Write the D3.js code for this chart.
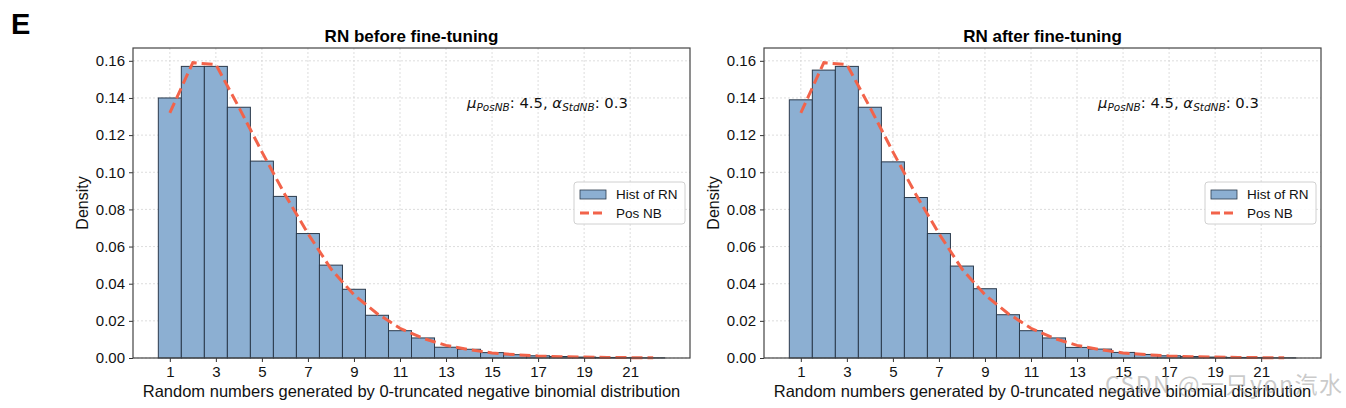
<!DOCTYPE html>
<html>
<head>
<meta charset="utf-8">
<script src="https://cdn.jsdelivr.net/npm/d3@7"></script>
<style>
  body { margin: 0; background: #fff; }
  svg { display: block; font-family: "Liberation Sans", Arial, sans-serif; }
</style>
</head>
<body>
<div id="chart"></div>
<script>
/* Data */
const bins = d3.range(1, 23);
const beforeDensity = [0.140, 0.157, 0.157, 0.135, 0.106, 0.087, 0.067, 0.050, 0.037, 0.023, 0.0147,
  0.0108, 0.0058, 0.0047, 0.0029, 0.0018, 0.0012, 0.0008, 0.0005, 0.0003, 0.0002, 0.0001];
const afterDensity = [0.139, 0.155, 0.157, 0.135, 0.1056, 0.0864, 0.067, 0.0495, 0.0373, 0.0233, 0.0147,
  0.0108, 0.0057, 0.0048, 0.0030, 0.0019, 0.0012, 0.0008, 0.0005, 0.0003, 0.0002, 0.0001];
const posNB = [0.132, 0.159, 0.158, 0.135, 0.111, 0.088, 0.067, 0.048, 0.034, 0.024, 0.016,
  0.0106, 0.0068, 0.0045, 0.0027, 0.0018, 0.0011, 0.0007, 0.0005, 0.0003, 0.0002, 0.0001];
const xTicks = [1, 3, 5, 7, 9, 11, 13, 15, 17, 19, 21];
const yTicks = [0, 0.02, 0.04, 0.06, 0.08, 0.10, 0.12, 0.14, 0.16];
const titles = ["RN before fine-tuning", "RN after fine-tuning"];
const legendLabels = ["Hist of RN", "Pos NB"];

const width = 1346, height = 408;
const barColor = "#8cafd2", edgeColor = "#2b3a4c", lineColor = "#f2634a";

const svg = d3.select("#chart")
  .append("svg")
    .attr("width", width)
    .attr("height", height)
    .attr("viewBox", [0, 0, width, height]);

// panel letter
svg.append("text")
  .attr("x", 11).attr("y", 34)
  .style("font-size", "29px").style("font-weight", "bold")
  .text("E");

const drawPanel = (left, right, title, density) => {
  const top = 48, bottom = 358;

  const xScale = d3.scaleLinear().domain([-0.6, 23.6]).range([left, right]);
  const yScale = d3.scaleLinear().domain([0, 0.1669]).range([bottom, top]);

  const g = svg.append("g");

  // grid
  g.append("g").selectAll("line")
    .data(xTicks)
    .join("line")
      .attr("x1", d => xScale(d)).attr("x2", d => xScale(d))
      .attr("y1", top).attr("y2", bottom)
      .attr("stroke", "#d4d4d4").attr("stroke-width", 0.8)
      .attr("stroke-dasharray", "2,2");
  g.append("g").selectAll("line")
    .data(yTicks)
    .join("line")
      .attr("x1", left).attr("x2", right)
      .attr("y1", d => yScale(d)).attr("y2", d => yScale(d))
      .attr("stroke", "#d4d4d4").attr("stroke-width", 0.8)
      .attr("stroke-dasharray", "2,2");

  // histogram bars
  g.append("g").selectAll("rect")
    .data(bins.map((b, i) => ({bin: b, value: density[i]})))
    .join("rect")
      .attr("x", d => xScale(d.bin - 0.5))
      .attr("y", d => yScale(d.value))
      .attr("width", d => xScale(d.bin + 0.5) - xScale(d.bin - 0.5))
      .attr("height", d => yScale(0) - yScale(d.value))
      .attr("fill", barColor)
      .attr("stroke", edgeColor)
      .attr("stroke-width", 1);

  // Pos NB curve
  const line = d3.line()
    .x((d, i) => xScale(bins[i]))
    .y(d => yScale(d));
  g.append("path")
    .attr("d", line(posNB))
    .attr("fill", "none")
    .attr("stroke", lineColor)
    .attr("stroke-width", 3)
    .attr("stroke-dasharray", "11,5");

  // axes
  const xAxis = d3.axisBottom(xScale).tickValues(xTicks).tickSize(4).tickPadding(4);
  const xg = g.append("g").attr("transform", `translate(0, ${bottom})`).call(xAxis);
  const yAxis = d3.axisLeft(yScale).tickValues(yTicks).tickFormat(d3.format(".2f")).tickSize(4).tickPadding(4);
  const yg = g.append("g").attr("transform", `translate(${left}, 0)`).call(yAxis);
  [xg, yg].forEach(a => {
    a.select(".domain").remove();
    a.selectAll("line").attr("stroke", "#333");
    a.selectAll("text").style("font-size", "15px").attr("fill", "#111")
      .style("font-family", "'Liberation Sans', Arial, sans-serif");
  });

  // frame
  g.append("rect")
    .attr("x", left).attr("y", top)
    .attr("width", right - left).attr("height", bottom - top)
    .attr("fill", "none").attr("stroke", "#444").attr("stroke-width", 1.2);

  // title and labels
  g.append("text")
    .attr("x", (left + right) / 2).attr("y", 42)
    .attr("text-anchor", "middle")
    .style("font-size", "17px").style("font-weight", "bold")
    .text(title);
  g.append("text")
    .attr("x", (left + right) / 2).attr("y", 397)
    .attr("text-anchor", "middle")
    .style("font-size", "16.5px").attr("fill", "#111")
    .text("Random numbers generated by 0-truncated negative binomial distribution");
  g.append("text")
    .attr("transform", `translate(${left - 45}, ${(top + bottom) / 2}) rotate(-90)`)
    .attr("text-anchor", "middle")
    .style("font-size", "16px").attr("fill", "#111")
    .text("Density");

  // annotation
  const ann = g.append("text")
    .attr("x", left + 334).attr("y", 108)
    .style("font-family", "'DejaVu Sans', sans-serif")
    .style("font-size", "14.8px").attr("fill", "#111");
  ann.append("tspan").style("font-style", "italic").text("μ");
  ann.append("tspan").style("font-style", "italic").style("font-size", "10.5px").attr("dy", 3).text("PosNB");
  ann.append("tspan").attr("dy", -3).text(": 4.5, ");
  ann.append("tspan").style("font-style", "italic").text("α");
  ann.append("tspan").style("font-style", "italic").style("font-size", "10.5px").attr("dy", 3).text("StdNB");
  ann.append("tspan").attr("dy", -3).text(": 0.3");

  // legend
  const lx = right - 116, ly = 182;
  const leg = g.append("g").attr("transform", `translate(${lx}, ${ly})`);
  leg.append("rect")
    .attr("width", 111).attr("height", 42).attr("rx", 3)
    .attr("fill", "rgba(255,255,255,0.85)").attr("stroke", "#d0d0d0");
  leg.append("rect")
    .attr("x", 6).attr("y", 8).attr("width", 26).attr("height", 9)
    .attr("fill", barColor).attr("stroke", edgeColor).attr("stroke-width", 0.8);
  leg.append("line")
    .attr("x1", 6).attr("x2", 32).attr("y1", 31).attr("y2", 31)
    .attr("stroke", lineColor).attr("stroke-width", 3).attr("stroke-dasharray", "9,4");
  leg.selectAll("text.lab")
    .data(legendLabels)
    .join("text")
      .attr("class", "lab")
      .attr("x", 42).attr("y", (d, i) => 17 + i * 19)
      .style("font-size", "13.5px").attr("fill", "#111")
      .text(d => d);
};

drawPanel(133, 690, titles[0], beforeDensity);
drawPanel(764, 1321, titles[1], afterDensity);

// watermark
svg.append("text")
  .attr("x", 1105).attr("y", 393)
  .style("font-family", "'Noto Sans CJK SC', sans-serif")
  .style("font-size", "23px").style("letter-spacing", "1.5px")
  .attr("fill", "rgba(150,150,150,0.5)")
  .text("CSDN @一只yon汽水");
</script>
</body>
</html>
